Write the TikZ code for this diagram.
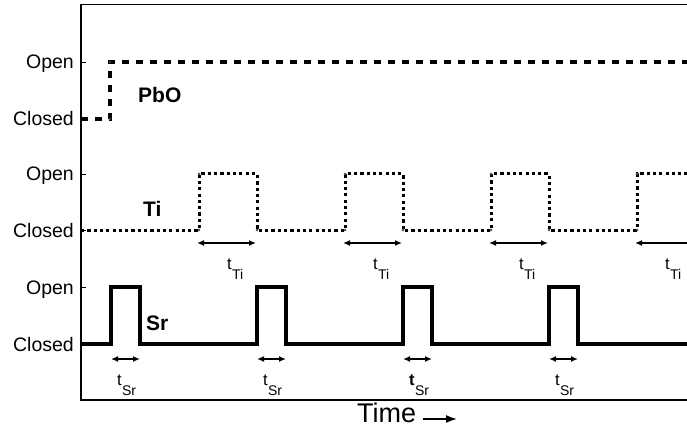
\documentclass[tikz,border=0pt]{standalone}
\usepackage{fontspec}
\setmainfont{Liberation Sans}
\usetikzlibrary{arrows.meta}
\newcommand{\tdur}[2]{t\kern0.3pt\lower10.5pt\hbox{\fontsize{14}{15}\selectfont #2}}
\begin{document}
\begin{tikzpicture}[x=1pt,y=-1pt,
  lvl/.style={anchor=base east,inner sep=0pt,font=\fontsize{19.5}{20}\selectfont},
  chan/.style={anchor=base west,inner sep=0pt,font=\fontsize{21}{22}\selectfont\bfseries},
  wave/.style={line width=3.2pt,line join=miter},
  pbo/.style={wave,dash pattern=on 7pt off 7pt},
  tiw/.style={wave,line width=3pt,dash pattern=on 3.2pt off 3.1pt},
  dur/.style={line width=1.5pt,{Latex[length=7pt,width=6pt]}-{Latex[length=7pt,width=6pt]}},
  tlab/.style={anchor=base west,inner sep=0pt,font=\fontsize{16.5}{17}\selectfont},
  mk/.style={draw=black,fill=white,line width=0.4pt,circle,inner sep=0pt,minimum size=2.4pt},
  axisline/.style={line width=1.2pt}
]
\clip (0,0) rectangle (687,430);
\fill[white] (0,0) rectangle (687,430);
% axes
\coordinate (tr) at (687,4.5);
\coordinate (tl) at (81,4.5);
\coordinate (bl) at (81,400);
\coordinate (br) at (687,400);
\draw[axisline] (tr) -- (tl) -- (bl) -- (br);
\foreach \y in {62,119,174,230,287,344} \draw[line width=0.8pt] (81,\y) -- (86,\y);
% level labels
\node[lvl] (o1) at (74,69) {Open};
\node[lvl] (c1) at (74,126) {Closed};
\node[lvl] (o2) at (74,181) {Open};
\node[lvl] (c2) at (74,237) {Closed};
\node[lvl] (o3) at (74,294) {Open};
\node[lvl] (c3) at (74,351) {Closed};
% channel names
\node[chan] (pbo) at (138,103) {PbO};
\node[chan] (ti) at (143,217) {Ti};
\node[chan] (sr) at (146,330) {Sr};
% PbO waveform
\draw[pbo] (81,119) -- (110,119) -- (110,62) -- (690,62);
\node[mk] at (110,119) {};
\node[mk] at (110,62) {};
% Ti waveform
\draw[tiw] (81,230)
  \foreach \r in {199,345,491,637} { -- (\r,230) -- (\r,174) -- ({\r+58},174) -- ({\r+58},230) } -- (690,230);
\foreach \r in {199,345,491,637} {
  \node[mk] at (\r,230) {};
  \node[mk] at (\r,174) {};
  \node[mk] at ({\r+58},230) {};
  \coordinate (ta\r) at ({\r-2},243);
  \coordinate (tb\r) at ({\r+57},243);
  \draw[dur] (ta\r) -- (tb\r);
  \node[tlab] (tt\r) at ({\r+28},269) {\tdur{t}{Ti}};
}
% Sr waveform
\draw[wave] (81,344)
  \foreach \r in {111,257,403,549} { -- (\r,344) -- (\r,287) -- ({\r+29},287) -- ({\r+29},344) } -- (690,344);
\foreach \r in {111,257,549} {
  \coordinate (sa\r) at (\r,359);
  \coordinate (sb\r) at ({\r+29},359);
  \draw[dur] (sa\r) -- (sb\r);
  \node[tlab] (st\r) at ({\r+6},385) {\tdur{t}{Sr}};
}
\coordinate (sa403) at (403,359);
\coordinate (sb403) at (432,359);
\draw[dur] (sa403) -- (sb403);
\node[tlab] (st403) at (409,385) {\textbf{t}\kern0.3pt\lower10.5pt\hbox{\fontsize{14}{15}\selectfont Sr}};
% time axis label
\node[anchor=base west,inner sep=0pt,font=\fontsize{27}{28}\selectfont] (time) at (357,422) {Time};
\coordinate (ta) at (423,419);
\coordinate (tb) at (457,419);
\draw[line width=1.6pt,-{Latex[length=11pt,width=8pt]}] (ta) -- (tb);
\end{tikzpicture}
\end{document}
